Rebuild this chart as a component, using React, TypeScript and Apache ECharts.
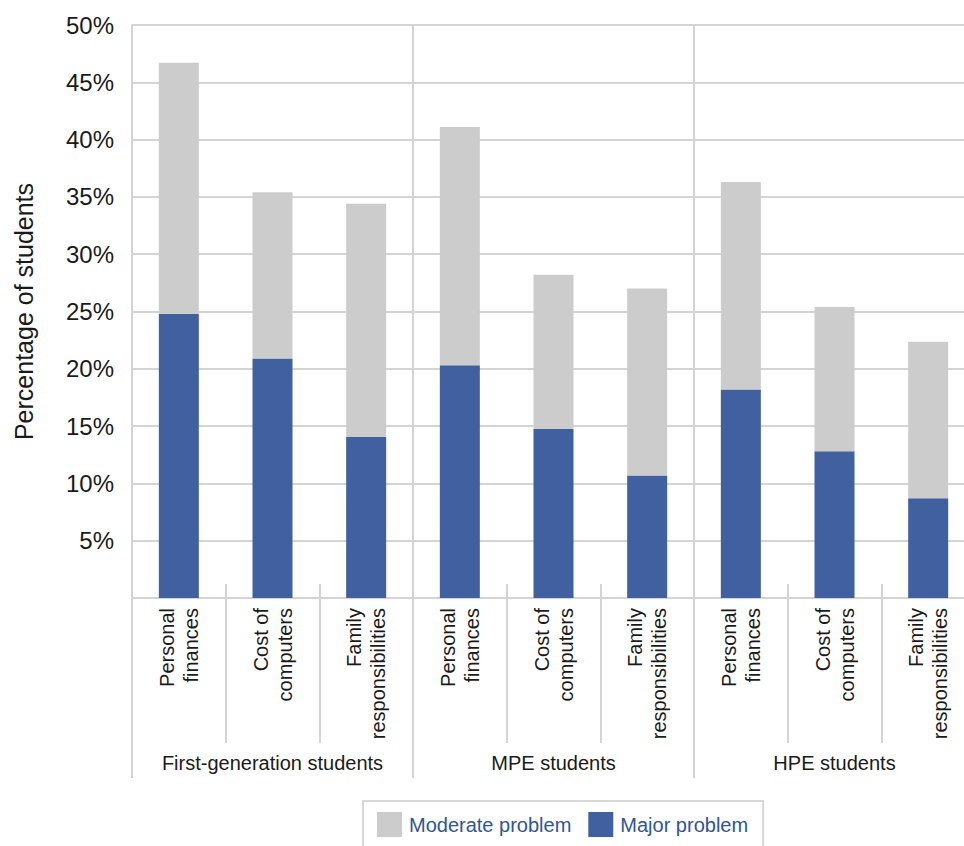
import React, { useEffect, useRef } from "react";
import * as echarts from "echarts";

// Problems reported by students, split by parental education level
const groups = ["First-generation students", "MPE students", "HPE students"];
const problems = ["Personal\nfinances", "Cost of\ncomputers", "Family\nresponsibilities"];

// Percentage of students reporting each item as a major problem
const majorValues = [24.8, 20.9, 14.05, 20.3, 14.75, 10.7, 18.2, 12.8, 8.7];
// Percentage reporting it as a moderate problem or a major problem (stack total)
const totalValues = [46.7, 35.4, 34.4, 41.1, 28.2, 27.0, 36.3, 25.4, 22.35];

const yTicks = [0, 5, 10, 15, 20, 25, 30, 35, 40, 45, 50];

const seriesNames = ["Moderate problem", "Major problem"];

const FONT = "'Liberation Sans', Arial, sans-serif";
const LINE = "#d4d4d4";
const TEXT = "#1a1a1a";

export default function App() {
  const ref = useRef<HTMLDivElement>(null);

  useEffect(() => {
    if (!ref.current) return;
    const chart = echarts.init(ref.current, undefined, { renderer: "svg" });

    const categories: string[] = [];
    groups.forEach(() => problems.forEach((p) => categories.push(p)));
    const moderateValues = totalValues.map((t, i) => +(t - majorValues[i]).toFixed(2));

    chart.setOption({
      animation: false,
      backgroundColor: "#ffffff",
      textStyle: { fontFamily: FONT },
      grid: { left: 132, top: 25, width: 843, height: 573, containLabel: false },
      legend: {
        data: [seriesNames[0], seriesNames[1]],
        left: 363,
        top: 801,
        padding: [11, 15, 11, 14],
        itemWidth: 25,
        itemHeight: 25,
        itemGap: 17,
        borderColor: "#d8d8d8",
        borderWidth: 2,
        icon: "rect",
        textStyle: { color: "#2e5597", fontSize: 20, fontFamily: FONT, padding: [0, 0, 0, 2] },
      },
      xAxis: [
        {
          type: "category",
          data: categories,
          position: "bottom",
          axisLine: { show: true, lineStyle: { color: LINE, width: 2 } },
          axisTick: { show: true, interval: 0, length: 145, lineStyle: { color: LINE, width: 2 } },
          axisLabel: {
            interval: 0,
            rotate: 90,
            margin: 10,
            fontSize: 20,
            lineHeight: 24,
            color: TEXT,
            fontFamily: FONT,
          },
          splitLine: { show: false },
        },
        {
          type: "category",
          data: categories,
          position: "bottom",
          axisLine: { show: false },
          axisTick: { show: true, inside: true, interval: 0, length: 14, lineStyle: { color: LINE, width: 2 } },
          axisLabel: { show: false },
          splitLine: { show: false },
        },
        {
          type: "category",
          data: groups,
          position: "bottom",
          axisLine: { show: false },
          axisTick: { show: true, interval: 0, length: 180, lineStyle: { color: LINE, width: 2 } },
          axisLabel: {
            interval: 0,
            margin: 155,
            fontSize: 20,
            color: TEXT,
            fontFamily: FONT,
          },
          splitLine: { show: true, interval: 0, lineStyle: { color: LINE, width: 2 } },
        },
      ],
      yAxis: {
        type: "value",
        min: yTicks[0],
        max: yTicks[yTicks.length - 1],
        interval: yTicks[1] - yTicks[0],
        name: "Percentage of students",
        nameLocation: "middle",
        nameGap: 96,
        nameTextStyle: { fontSize: 25, color: TEXT, fontFamily: FONT },
        axisLine: { show: true, lineStyle: { color: LINE, width: 2 } },
        axisTick: { show: false },
        axisLabel: {
          margin: 18,
          fontSize: 24,
          color: TEXT,
          fontFamily: FONT,
          formatter: (v: number) => (v === 0 ? "" : `${v}%`),
        },
        splitLine: { show: true, lineStyle: { color: LINE, width: 2 } },
      },
      series: [
        {
          name: seriesNames[1],
          type: "bar",
          stack: "total",
          xAxisIndex: 0,
          data: majorValues,
          barWidth: 40,
          itemStyle: { color: "#4160a0" },
        },
        {
          name: seriesNames[0],
          type: "bar",
          stack: "total",
          xAxisIndex: 0,
          data: moderateValues,
          barWidth: 40,
          itemStyle: { color: "#cccccc" },
        },
      ],
    });

    return () => chart.dispose();
  }, []);

  return (
    <div
      style={{
        position: "fixed",
        left: 0,
        top: 0,
        width: 964,
        height: 846,
        overflow: "hidden",
        background: "#ffffff",
      }}
    >
      <div ref={ref} style={{ width: 990, height: 846 }} />
    </div>
  );
}
